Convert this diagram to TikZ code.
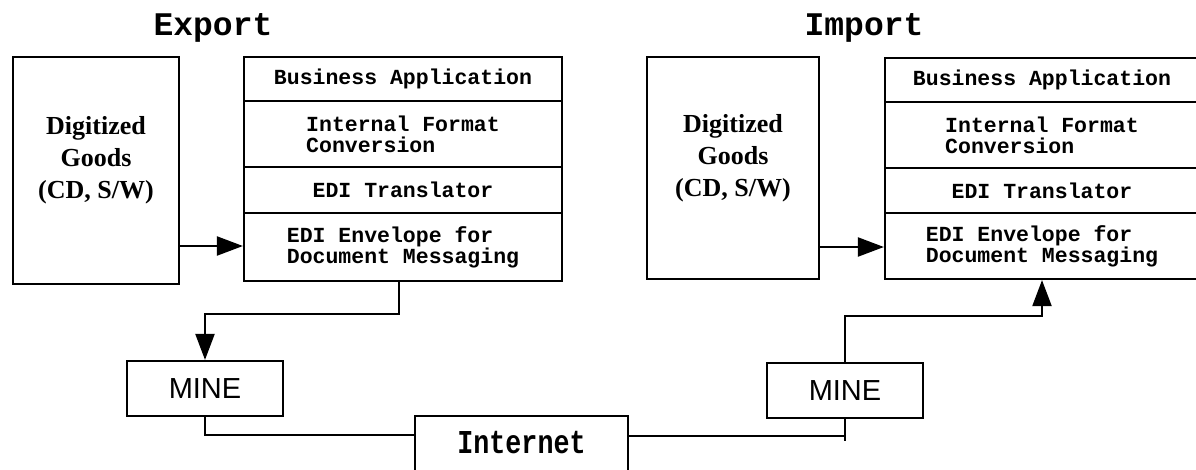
\documentclass[tikz,border=0pt]{standalone}
\usepackage{fontspec}
\setmainfont{Liberation Serif}
\newfontfamily\monofont{Liberation Mono}
\newfontfamily\sansfont{Liberation Sans}
\usetikzlibrary{arrows.meta}

\tikzset{
  box/.style={draw, line width=2.2pt, inner sep=0pt},
  tier/.style={box, minimum width=#1, align=left,
    font=\monofont\bfseries\fontsize{21.5}{21}\selectfont},
  goods/.style={box, minimum width=166pt},
  goodslabel/.style={align=center, inner sep=0pt,
    font=\bfseries\fontsize{26}{32}\selectfont},
  mine/.style={box, minimum width=156pt, minimum height=55pt,
    font=\sansfont\fontsize{29}{29}\selectfont},
  title/.style={anchor=base, inner sep=0pt,
    font=\monofont\bfseries\fontsize{33}{33}\selectfont},
  wire/.style={line width=2.2pt},
  arr/.style={wire, -{Triangle[length=26pt,width=19pt]}},
}

\begin{document}
\begin{tikzpicture}[x=1pt, y=-1pt]
\fill[white] (0,0) rectangle (1196,469);
\useasboundingbox (0,0) rectangle (1196,469);

% ---- titles
\node[title] (exptitle) at (213,35) {Export};
\node[title] (imptitle) at (864,35) {Import};

% ---- export side
\node[goods, minimum height=227pt] (goods1) at (96,170.5) {};
\node[goodslabel] (goods1txt) at (96,160) {Digitized\\Goods\\(CD, S/W)};

\node[tier=318pt, minimum height=44pt] (ba1)  at (403,79)  {Business Application};
\node[tier=318pt, minimum height=66pt] (ifc1) at (403,134) {Internal Format\\Conversion};
\node[tier=318pt, minimum height=46pt] (edt1) at (403,190) {EDI Translator};
\node[tier=318pt, minimum height=68pt] (env1) at (403,247) {EDI Envelope for\\Document Messaging};

% ---- import side
\node[goods, minimum width=172pt, minimum height=222pt] (goods2) at (733,168) {};
\node[goodslabel] (goods2txt) at (733,158) {Digitized\\Goods\\(CD, S/W)};

\node[tier=314pt, minimum height=44pt] (ba2)  at (1042,80)    {Business Application};
\node[tier=314pt, minimum height=66pt] (ifc2) at (1042,135)   {Internal Format\\Conversion};
\node[tier=314pt, minimum height=45pt] (edt2) at (1042,190.5) {EDI Translator};
\node[tier=314pt, minimum height=66pt] (env2) at (1042,246)   {EDI Envelope for\\Document Messaging};

% ---- transport
\node[mine] (mine1) at (205,388.5) {MINE};
\node[mine] (mine2) at (845,390.5) {MINE};
\node[box, minimum width=213pt, minimum height=90pt, anchor=north] (inet) at (521.5,415) {};
\node[anchor=base, inner sep=0pt, font=\monofont\bfseries\fontsize{26.7}{26.7}\selectfont]
  (inettxt) at (521.5,453) {\scalebox{1}[1.25]{Internet}};

% ---- connectors
\coordinate (j1) at (0,435);
\coordinate (j2) at (0,436);
\draw[arr] (goods1.east |- 0,246) -- (env1.west |- 0,246);
\draw[arr] (goods2.east |- 0,247) -- (env2.west |- 0,247);
\draw[arr] ([xshift=-4pt]env1.south) -- ++(0,32) -| (mine1.north);
\draw[wire] (mine1.south) |- (inet.west |- j1);
\draw[wire] (inet.east |- j2) -- (mine2.south |- j2);
\draw[wire] (mine2.south) -- ++(0,22);
\draw[arr] (mine2.north) -- ++(0,-46) -| (env2.south);
\end{tikzpicture}
\end{document}
